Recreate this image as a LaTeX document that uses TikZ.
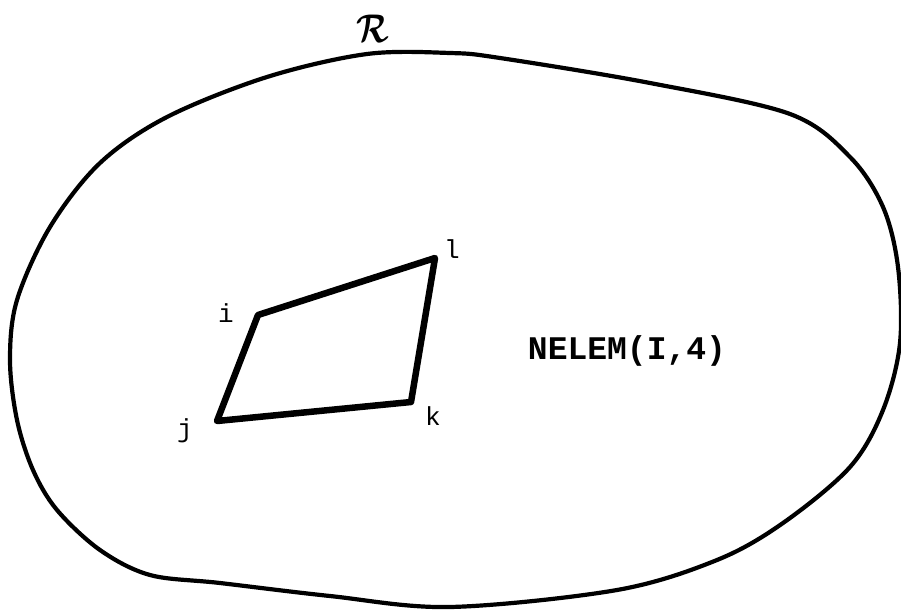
\documentclass[tikz,border=0pt]{standalone}
\usepackage{fontspec}
\usepackage{amsmath}
\newfontfamily\cmono{Liberation Mono}
\begin{document}
\begin{tikzpicture}[x=1pt,y=-1pt]
\tikzset{region/.style={line width=4.2pt, line join=round},
  elem/.style={line width=6.5pt, line join=round},
  vlabel/.style={font={\cmono\fontsize{26}{28}\selectfont}, inner sep=0pt},
  elabel/.style={font={\cmono\bfseries\fontsize{33}{36}\selectfont}, inner sep=0pt},
  rlabel/.style={inner sep=0pt}}
\useasboundingbox (0,0) rectangle (901,610);
\fill[white] (0,0) rectangle (901,610);
\draw[region] plot[smooth cycle, tension=0.55] coordinates {(367,54) (450,53) (500,58) (650,83) (790,114) (850,157) (883,207) (898,267) (900,343) (883,410) (850,467) (783,523) (717,560) (617,590) (450,607) (330,596) (220,583) (150,575) (100,550) (57,510) (33,470) (17,420) (10,360) (17,300) (50,227) (100,163) (167,117) (267,77)};
\node[rlabel] (R) at (373,29) {\scalebox{3.3}[4]{$\boldsymbol{\mathcal{R}}$}};
\coordinate (i) at (258,315);
\coordinate (l) at (435,258);
\coordinate (k) at (411,402);
\coordinate (j) at (217,421);
\draw[elem] (i) -- (l) -- (k) -- (j) -- cycle;
\node[vlabel] (li) at (226,313) {i};
\node[vlabel] (ll) at (452,249) {l};
\node[vlabel] (lk) at (433,416) {k};
\node[vlabel] (lj) at (185,431) {j};
\node[elabel] (ne) at (627,351) {NELEM(I,4)};
\end{tikzpicture}
\end{document}
